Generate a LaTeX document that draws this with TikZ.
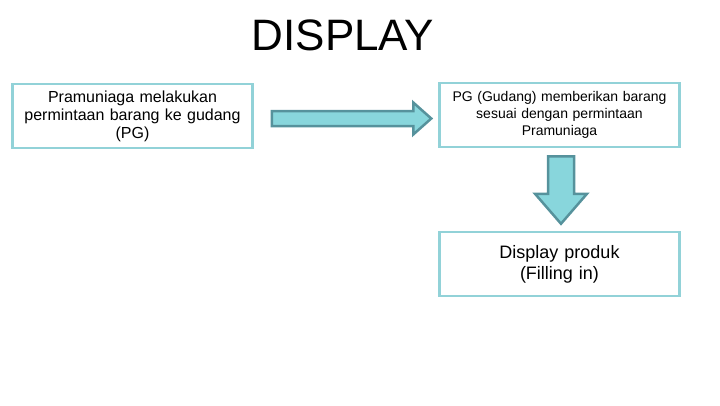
\documentclass[tikz,border=0pt]{standalone}
\usepackage{fontspec}
\setmainfont{Liberation Sans}
\usetikzlibrary{calc,positioning}
\definecolor{boxline}{RGB}{146,210,216}
\definecolor{arrowfill}{RGB}{136,214,220}
\definecolor{arrowline}{RGB}{86,146,156}
\tikzset{
  stepbox/.style={draw=boxline, line width=2.5pt, fill=white, align=center,
    text width=236pt, minimum height=64pt, inner sep=2pt, font=\fontsize{16}{18}\selectfont},
  blockarrow/.style={fill=arrowfill, draw=arrowline, line width=2.5pt, line join=miter}
}
\begin{document}
\begin{tikzpicture}[x=1pt, y=-1pt]
  \useasboundingbox (0,0) rectangle (720,405);
  \node (title) at (343,35) {\fontsize{44}{48}\selectfont DISPLAY};
  \node[stepbox] (minta) at (132.5,116) {Pramuniaga melakukan\\permintaan barang ke gudang\\(PG)};
  \node[stepbox, font=\fontsize{14}{17}\selectfont] (beri) at (559.5,115) {PG (Gudang) memberikan barang\\sesuai dengan permintaan\\Pramuniaga};
  \node[stepbox, font=\fontsize{18}{21}\selectfont] (produk) at (559.5,264) {Display produk\\(Filling in)};
  % right block arrow
  \coordinate (ra) at ($(minta.east)+(18,2.5)$);
  \coordinate (rb) at ($(beri.west)+(-7,3.5)$);
  \draw[blockarrow] ($(ra)+(0,-7.5)$) -- ($(rb)+(-18,-7.5)$) -- ($(rb)+(-18,-16)$) -- (rb)
    -- ($(rb)+(-18,16)$) -- ($(rb)+(-18,7.5)$) -- ($(ra)+(0,7.5)$) -- cycle;
  % down block arrow
  \coordinate (da) at ($(beri.south)+(1.5,8)$);
  \coordinate (db) at ($(produk.north)+(1.5,-7)$);
  \draw[blockarrow] ($(da)+(-13,0)$) -- ($(db)+(-13,-30)$) -- ($(db)+(-26,-30)$) -- (db)
    -- ($(db)+(26,-30)$) -- ($(db)+(13,-30)$) -- ($(da)+(13,0)$) -- cycle;
\end{tikzpicture}
\end{document}
